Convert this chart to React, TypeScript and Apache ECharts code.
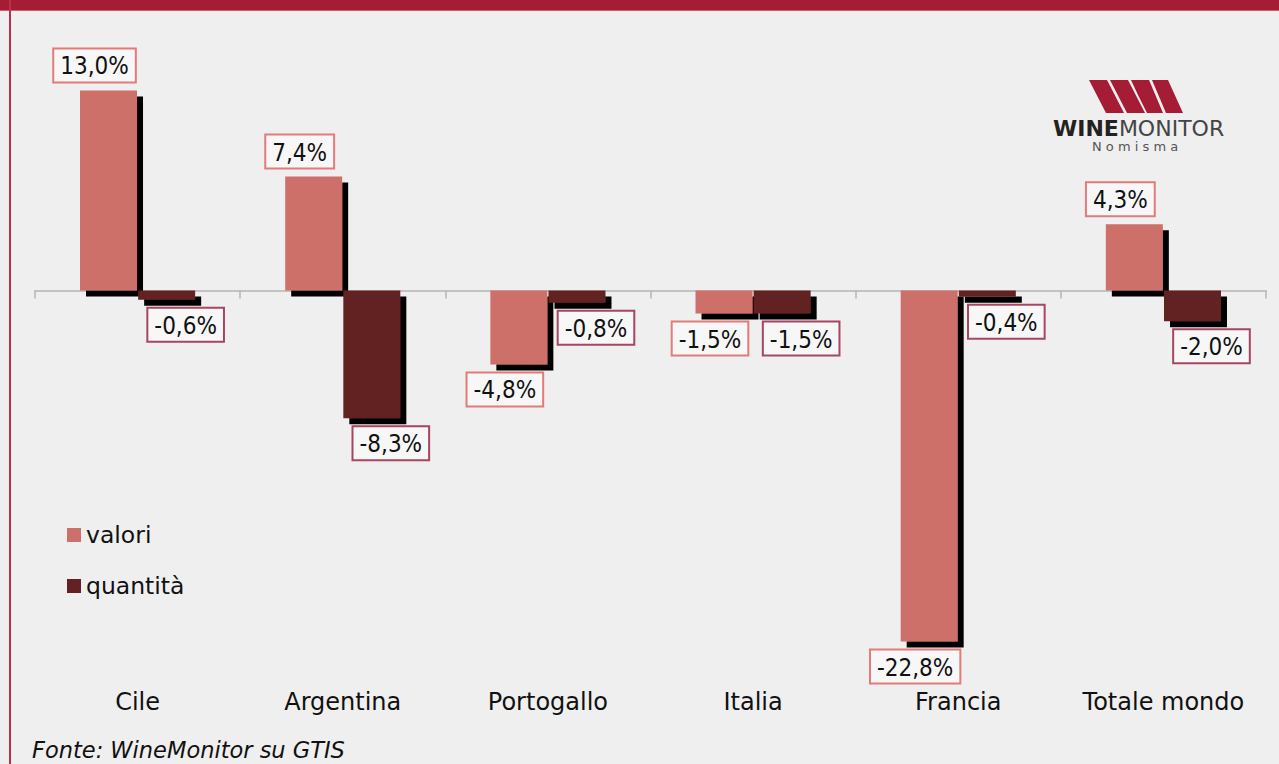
import React, { useEffect, useRef } from "react";
import * as echarts from "echarts";

const categories = ["Cile", "Argentina", "Portogallo", "Italia", "Francia", "Totale mondo"];
const valori = [13.0, 7.4, -4.8, -1.5, -22.8, 4.3];
const quantita = [-0.6, -8.3, -0.8, -1.5, -0.4, -2.0];
const seriesNames = ["valori", "quantità"];
const sourceText = "Fonte: WineMonitor su GTIS";

const FONT = "'DejaVu Sans Condensed', 'DejaVu Sans', sans-serif";
const FONT_WIDE = "'DejaVu Sans', sans-serif";
const fmt = (v: number) => v.toFixed(1).replace(".", ",") + "%";

const toItems = (arr: number[]) =>
  arr.map((v) => ({
    value: v,
    label: { position: v < 0 ? "bottom" : "top" },
  }));

export default function App() {
  const ref = useRef<HTMLDivElement>(null);
  useEffect(() => {
    if (!ref.current) return;
    const chart = echarts.init(ref.current, null, { renderer: "svg" });
    const labelBase = {
      show: true,
      formatter: (p: any) => fmt(p.value),
      fontFamily: FONT,
      fontSize: 24,
      color: "#111",
      backgroundColor: "#f7f7f7",
      borderWidth: 2,
      padding: [5, 6, 3, 6],
      distance: 9,
    };
    const shadow = {
      shadowColor: "#000",
      shadowBlur: 0,
      shadowOffsetX: 6,
      shadowOffsetY: 6,
    };
    chart.setOption({
      animation: false,
      backgroundColor: "#efefef",
      grid: { left: 35, right: 13, top: 75, bottom: 104 },
      legend: {
        orient: "vertical",
        left: 62,
        top: 518,
        itemWidth: 14,
        itemHeight: 14,
        itemGap: 27,
        icon: "rect",
        data: seriesNames,
        textStyle: { fontFamily: FONT_WIDE, fontSize: 23.5, color: "#111" },
      },
      xAxis: [
        {
          type: "category",
          data: categories,
          axisLine: { onZero: true, lineStyle: { color: "#b5b5b5", width: 1.5 } },
          axisTick: { show: true, length: 8, lineStyle: { color: "#b5b5b5", width: 1.5 } },
          axisLabel: { show: false },
          splitLine: { show: false },
        },
        {
          type: "category",
          data: categories,
          position: "bottom",
          axisLine: { show: false, onZero: false },
          axisTick: { show: false },
          axisLabel: {
            show: true,
            interval: 0,
            margin: 30,
            fontFamily: FONT_WIDE,
            fontSize: 24,
            color: "#111",
          },
        },
      ],
      yAxis: {
        type: "value",
        min: -24,
        max: 14,
        show: false,
        splitLine: { show: false },
      },
      series: [
        {
          name: seriesNames[0],
          type: "bar",
          data: toItems(valori),
          barWidth: 57,
          barGap: "2%",
          itemStyle: { color: "#cd6f6b", ...shadow },
          label: { ...labelBase, borderColor: "#e27b79", offset: [-14, 0] },
        },
        {
          name: seriesNames[1],
          type: "bar",
          data: toItems(quantita),
          barWidth: 57,
          barGap: "2%",
          itemStyle: { color: "#632222", ...shadow },
          label: { ...labelBase, borderColor: "#a84560", offset: [19, 0] },
        },
      ],
      graphic: [
        { type: "rect", left: 0, top: 0, shape: { width: 1279, height: 10 }, style: { fill: "#a51c35" }, silent: true },
        { type: "rect", left: 0, top: 10, shape: { width: 1279, height: 1 }, style: { fill: "#d06070" }, silent: true },
        { type: "rect", left: 9, top: 0, shape: { width: 2, height: 764 }, style: { fill: "#b8304a" }, silent: true },
        {
          type: "text",
          left: 32,
          top: 738,
          style: {
            text: sourceText,
            fontFamily: FONT_WIDE,
            fontStyle: "italic",
            fontSize: 22.5,
            fill: "#111",
          },
        },
        // logo mark
        { type: "polygon", shape: { points: [[1089, 80], [1107, 80], [1124, 113], [1106, 113]] }, style: { fill: "#a51c35" } },
        { type: "polygon", shape: { points: [[1110, 80], [1128, 80], [1145, 113], [1127, 113]] }, style: { fill: "#a51c35" } },
        { type: "polygon", shape: { points: [[1131, 80], [1149, 80], [1163, 113], [1147, 113], [1138, 95]] }, style: { fill: "#a51c35" } },
        { type: "polygon", shape: { points: [[1152, 80], [1168, 80], [1183, 113], [1166, 113]] }, style: { fill: "#a51c35" } },
        {
          type: "text",
          left: 1053,
          top: 117,
          style: {
            text: "{b|WINE}{r|MONITOR}",
            rich: {
              b: { fontFamily: FONT_WIDE, fontSize: 22, fontWeight: "bold", fill: "#222", color: "#222" },
              r: { fontFamily: FONT_WIDE, fontSize: 22, fill: "#444", color: "#444" },
            },
          },
        },
        {
          type: "text",
          left: 1092,
          top: 140,
          style: {
            text: "N o m i s m a",
            fontFamily: FONT_WIDE,
            fontSize: 13,
            fill: "#555",
          },
        },
      ],
    });
    return () => chart.dispose();
  }, []);
  return (
    <div
      ref={ref}
      style={{ position: "fixed", left: 0, top: 0, width: 1279, height: 764 }}
    />
  );
}
